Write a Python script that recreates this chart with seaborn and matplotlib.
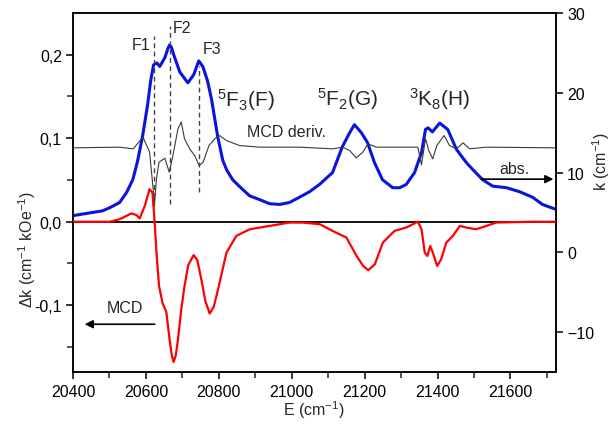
import numpy as np
import pandas as pd
import matplotlib
matplotlib.use("Agg")
import matplotlib.pyplot as plt
import seaborn as sns

# ---------------- data ----------------
abs_E = [20400, 20454, 20481, 20501, 20528, 20547, 20564, 20577, 20591, 20605,
         20613, 20621, 20630, 20638, 20652, 20660, 20665, 20670, 20676, 20693, 20715, 20731,
         20745, 20756, 20769, 20780, 20797, 20811, 20822, 20838, 20857, 20884,
         20912, 20939, 20967, 20994, 21021, 21049, 21076, 21112, 21139, 21159,
         21172, 21191, 21208, 21227, 21249, 21277, 21296, 21314, 21337, 21356,
         21367, 21374, 21386, 21406, 21428, 21452, 21479, 21496, 21524, 21551,
         21589, 21625, 21661, 21688, 21724]
abs_k = [4.6, 5.0, 5.2, 5.6, 6.25, 7.5, 9.1, 11.4, 14.6, 18.6,
         21.5, 23.5, 23.75, 23.3, 24.4, 25.5, 26.0, 25.7, 24.8, 22.6, 21.25, 22.25,
         24.0, 23.3, 21.5, 19.2, 14.5, 11.5, 10.3, 9.1, 8.25, 7.1,
         6.6, 6.1, 6.0, 6.25, 6.9, 7.6, 8.5, 10.0, 13.25, 15.0,
         16.0, 15.0, 13.75, 11.25, 9.1, 8.1, 8.1, 8.5, 10.0, 12.5,
         15.4, 15.6, 15.1, 16.2, 15.4, 12.9, 11.25, 10.4, 9.1, 8.3,
         8.1, 7.6, 6.9, 6.0, 5.4]

mcd_E = [20400, 20501, 20528, 20560, 20574, 20583, 20597, 20610, 20618, 20624,
         20629, 20636, 20646, 20656, 20665, 20671, 20676, 20682, 20688, 20697, 20706,
         20716, 20731, 20741, 20752, 20763, 20775, 20786,
         20798, 20821, 20848, 20885, 20940, 20994, 21030, 21077, 21112, 21150,
         21178, 21196, 21210, 21228, 21250, 21282, 21314, 21346, 21356, 21365,
         21372, 21380, 21387, 21399, 21410, 21424, 21442, 21461, 21479, 21506,
         21534, 21561, 21661, 21724]
mcd_dk = [0.0, 0.0, 0.003, 0.010, 0.008, 0.004, 0.019, 0.039, 0.035, -0.001,
          -0.037, -0.077, -0.098, -0.108, -0.141, -0.160, -0.168, -0.160, -0.141, -0.105, -0.077,
          -0.052, -0.040, -0.046, -0.069, -0.095, -0.110, -0.102,
          -0.081, -0.037, -0.017, -0.009, -0.005, -0.001, -0.001, -0.003, -0.011, -0.019,
          -0.041, -0.053, -0.058, -0.051, -0.025, -0.011, -0.007, 0.0, -0.009, -0.037,
          -0.041, -0.029, -0.037, -0.053, -0.045, -0.025, -0.017, -0.005, -0.007, -0.009,
          -0.005, -0.001, 0.0, 0.0]

der_E = [20400, 20528, 20565, 20592, 20610, 20619, 20624, 20629, 20636, 20652,
         20664, 20674, 20688, 20697, 20706, 20720, 20734, 20746, 20757, 20773,
         20789, 20802, 20821, 20857, 20912, 21022, 21112, 21140, 21159, 21177,
         21195, 21209, 21232, 21346, 21356, 21367, 21376, 21387, 21398, 21418,
         21433, 21452, 21470, 21488, 21534, 21724]
der_val = [0.0885, 0.0893, 0.0873, 0.1013, 0.0837, 0.0432, 0.0233, 0.0513, 0.0713, 0.0761,
           0.0593, 0.0792, 0.1113, 0.1193, 0.0993, 0.0873, 0.0792, 0.0672, 0.0713, 0.0912,
           0.0993, 0.1032, 0.0972, 0.0912, 0.0893, 0.0893, 0.0873, 0.0893, 0.0852, 0.0765,
           0.0833, 0.0933, 0.0893, 0.0893, 0.0681, 0.0993, 0.0852, 0.0753, 0.0912, 0.1032,
           0.0912, 0.0873, 0.0945, 0.0873, 0.0893, 0.0885]

peak_names = ["F1", "F2", "F3"]
peak_E = [20622, 20665, 20747]
peak_top = [0.222, 0.234, 0.187]
peak_bot = [0.019, 0.021, 0.036]

left_ticks = [-0.1, 0.0, 0.1, 0.2]
left_ticklabels = ["-0,1", "0,0", "0,1", "0,2"]
right_ticks = [-10, 0, 10, 20, 30]
x_ticks = [20400, 20600, 20800, 21000, 21200, 21400, 21600]

# ---------------- style ----------------
sns.set_style("ticks")
plt.rcParams["font.family"] = ["Liberation Sans", "DejaVu Sans"]
plt.rcParams["mathtext.fontset"] = "custom"
plt.rcParams["mathtext.rm"] = "Liberation Sans"
plt.rcParams["mathtext.it"] = "Liberation Sans:italic"
plt.rcParams["mathtext.bf"] = "Liberation Sans:bold"
plt.rcParams["axes.linewidth"] = 1.1

FS = 11.5
fig = plt.figure(figsize=(6.12, 4.35), dpi=100)
ax = fig.add_axes([73 / 612, 1 - 373 / 435, (556 - 73) / 612, (373 - 14) / 435])
ax2 = ax.twinx()

# left-axis data
ax.axhline(0, color="black", lw=1.3, zorder=2)
sns.lineplot(x=der_E, y=der_val, ax=ax, color="#3a3a3a", lw=0.8,
             estimator=None, sort=False, zorder=3)
sns.lineplot(x=mcd_E, y=mcd_dk, ax=ax, color="#ff0000", lw=1.6,
             estimator=None, sort=False, zorder=4)
for e, t, b in zip(peak_E, peak_top, peak_bot):
    ax.plot([e, e], [b, t], ls=(0, (3.5, 2.5)), color="#444444", lw=1.0, zorder=3)

# right-axis data
sns.lineplot(x=abs_E, y=abs_k, ax=ax2, color="#0a14dc", lw=2.2,
             estimator=None, sort=False, zorder=5)

ax.set_xlim(20400, 21725)
ax.set_ylim(-0.18, 0.25)
ax2.set_ylim(-15, 30)

ax.set_xticks(x_ticks)
ax.set_xticks(np.arange(20500, 21725, 200), minor=True)
ax.set_yticks(left_ticks)
ax.set_yticklabels(left_ticklabels)
ax.set_yticks([-0.15, -0.05, 0.05, 0.15], minor=True)
ax2.set_yticks(right_ticks)

for a in (ax, ax2):
    a.tick_params(which="major", direction="out", length=5, width=1.1,
                  labelsize=FS, colors="black")
    a.tick_params(which="minor", direction="out", length=4, width=1.1)
    for s in a.spines.values():
        s.set_visible(True)
        s.set_linewidth(1.1)
        s.set_color("black")
ax.tick_params(axis="y", pad=3)
ax2.tick_params(axis="y", pad=3)
ax.set_xlabel("")
ax.set_ylabel("")
ax2.set_ylabel("")
ax.set_zorder(ax2.get_zorder() + 1)
ax.patch.set_visible(False)

# annotations
ax.text(20612, 0.207, "F1", ha="right", va="baseline", fontsize=FS)
ax.text(20674, 0.2275, "F2", ha="left", va="baseline", fontsize=FS)
ax.text(20757, 0.2025, "F3", ha="left", va="baseline", fontsize=FS)
ax.text(20795, 0.139, r"$^{5}\mathregular{F}_{3}\mathregular{(F)}$", fontsize=15,
        ha="left", va="baseline")
ax.text(21069, 0.140, r"$^{5}\mathregular{F}_{2}\mathregular{(G)}$", fontsize=15,
        ha="left", va="baseline")
ax.text(21321, 0.140, r"$^{3}\mathregular{K}_{8}\mathregular{(H)}$", fontsize=15,
        ha="left", va="baseline")
ax.text(20876, 0.108, "MCD deriv.", fontsize=FS, ha="left", va="center")
ax.text(21570, 0.0585, "abs.", fontsize=FS, ha="left", va="baseline")
ax.text(20493, -0.108, "MCD", fontsize=FS, ha="left", va="baseline")
ax.annotate("", xy=(21718, 0.051), xytext=(21520, 0.051),
            arrowprops=dict(arrowstyle="-|>", color="black", lw=1.2,
                            mutation_scale=12, shrinkA=0, shrinkB=0))
ax.annotate("", xy=(20432, -0.1228), xytext=(20624, -0.1228),
            arrowprops=dict(arrowstyle="-|>", color="black", lw=1.2,
                            mutation_scale=12, shrinkA=0, shrinkB=0))

fig.text(314 / 612, 1 - 410 / 435, r"E (cm$^{-1}$)", ha="center", va="center",
         fontsize=FS)
fig.text(27 / 612, 1 - 250 / 435, r"$\Delta$k (cm$^{-1}$ kOe$^{-1}$)", ha="center",
         va="center", rotation=90, fontsize=FS)
fig.text(601 / 612, 1 - 162 / 435, r"k (cm$^{-1}$)", ha="center", va="center",
         rotation=90, fontsize=FS)

fig.savefig("out.png", dpi=100)
